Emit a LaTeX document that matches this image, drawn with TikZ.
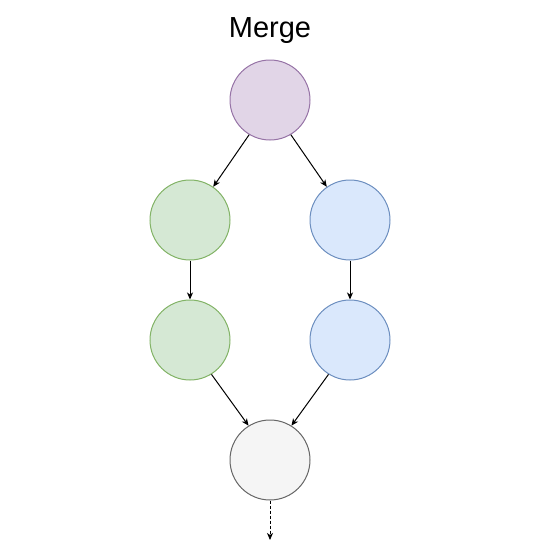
\documentclass[tikz,border=0pt]{standalone}
\usepackage{fontspec}
\setmainfont{Liberation Sans}
\usetikzlibrary{arrows.meta}
\definecolor{pfill}{HTML}{E1D5E7}\definecolor{pline}{HTML}{9673A6}
\definecolor{gfill}{HTML}{D5E8D4}\definecolor{gline}{HTML}{82B366}
\definecolor{bfill}{HTML}{DAE8FC}\definecolor{bline}{HTML}{6C8EBF}
\definecolor{efill}{HTML}{F5F5F5}\definecolor{eline}{HTML}{666666}
\begin{document}
\begin{tikzpicture}[x=1pt,y=-1pt,
  circ/.style={circle,minimum size=80pt,inner sep=0pt,line width=1pt},
  conn/.style={line width=1pt,-{Stealth[length=7pt,width=6pt,inset=2pt]}}]
\useasboundingbox (0,0) rectangle (540,550);
\node[font=\fontsize{29}{34}\selectfont,anchor=base,inner sep=0pt] (title) at (270,37) {Merge};
\node[circ,fill=pfill,draw=pline] (top) at (270,100) {};
\node[circ,fill=gfill,draw=gline] (g1) at (190,220) {};
\node[circ,fill=gfill,draw=gline] (g2) at (190,340) {};
\node[circ,fill=bfill,draw=bline] (b1) at (350,220) {};
\node[circ,fill=bfill,draw=bline] (b2) at (350,340) {};
\node[circ,fill=efill,draw=eline] (m) at (270,460) {};
\coordinate (end) at (270,540);
\draw[conn] (top.-121) -- (g1.55);
\draw[conn] (top.-59) -- (b1.125);
\draw[conn] (g1.south) -- (g2.north);
\draw[conn] (b1.south) -- (b2.north);
\draw[conn] (g2.-58) -- (m.122);
\draw[conn] (b2.-122) -- (m.58);
\draw[conn,dashed,dash pattern=on 3pt off 2pt] (m.south) -- (end);
\end{tikzpicture}
\end{document}
